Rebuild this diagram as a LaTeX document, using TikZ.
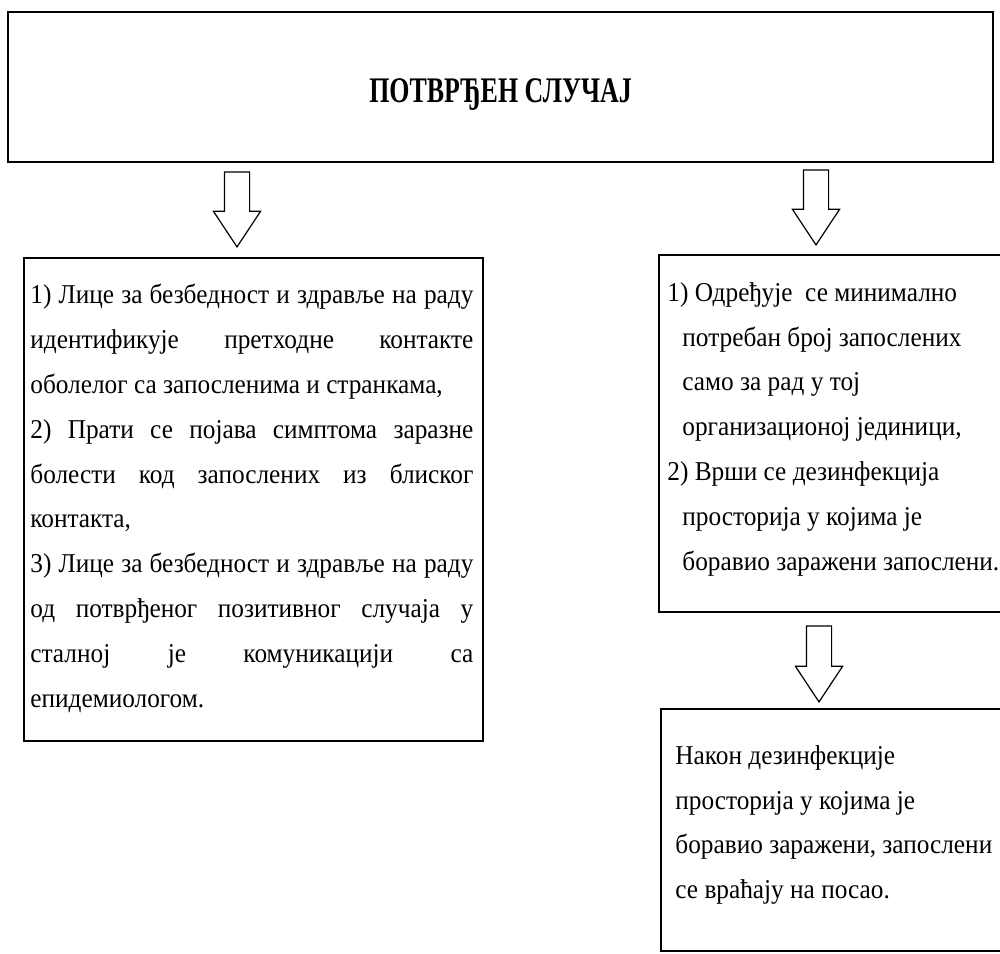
\documentclass[tikz,border=0pt]{standalone}
\usepackage{fontspec}
\setmainfont[FakeStretch=0.93]{Liberation Serif}
\newfontfamily\naslovfont[FakeStretch=0.72]{Liberation Serif}
\usetikzlibrary{positioning,shapes.arrows}
\hyphenpenalty=10000
\tolerance=9999
\tikzstyle{okvir} = [draw, rectangle, line width=0.9pt, inner sep=0pt]
\tikzstyle{tekst} = [inner sep=0pt, anchor=north west, font=\fontsize{13.6}{22.4}\selectfont]
\tikzstyle{strelica} = [draw, line width=0.6pt, single arrow, shape border rotate=270, single arrow head extend=5.5pt, single arrow tip angle=67, single arrow head indent=0pt, minimum height=37.5pt, inner sep=6pt, anchor=tip]

\begin{document}
\begin{tikzpicture}[x=0.5pt, y=-0.5pt]
\useasboundingbox (0,0) rectangle (1000,953);
\node[okvir, minimum width=492.5pt, minimum height=75pt, text height=15pt, text depth=0pt] (slucaj) at (500.5,87) {\naslovfont\bfseries\fontsize{18}{18}\selectfont ПОТВРЂЕН СЛУЧАЈ};
\node[okvir, minimum width=229.5pt, minimum height=241.5pt, anchor=north west] (lijevo) at (23,257) {};
\node[okvir, minimum width=176pt, minimum height=178.5pt, anchor=north west] (desno) at (658,254) {};
\node[okvir, minimum width=176pt, minimum height=121pt, anchor=north west] (povratak) at (660,708) {};
\node[strelica] (s1) at (237,248) {};
\node[strelica] (s2) at (816,246) {};
\node[strelica, minimum height=38pt] (s3) at (819,703) {};
\node[tekst, text width=221.5pt, align=justify] (mjere) at ([shift={(7,27)}]lijevo.north west) {1) Лице за безбедност и здравље на раду\linebreak идентификује претходне контакте\linebreak оболелог са запосленима и странкама,\\ 2) Прати се појава симптома заразне\linebreak болести код запослених из блиског\linebreak контакта,\\ 3) Лице за безбедност и здравље на раду\linebreak од потврђеног позитивног случаја у\linebreak сталној је комуникацији са\linebreak епидемиологом.};
\node[tekst, align=left] (jedinica) at ([shift={(9,28)}]desno.north west) {1) Одређује\ \ се минимално\\
\hspace*{7.5pt}потребан број запослених\\
\hspace*{7.5pt}само за рад у тој\\
\hspace*{7.5pt}организационој јединици,\\
2) Врши се дезинфекција\\
\hspace*{7.5pt}просторија у којима је\\
\hspace*{7.5pt}боравио заражени запослени.};
\node[tekst, align=left] (posao) at ([shift={(15,37)}]povratak.north west) {Након дезинфекције\\
просторија у којима је\\
боравио заражени, запослени\\
се враћају на посао.};
\end{tikzpicture}
\end{document}
